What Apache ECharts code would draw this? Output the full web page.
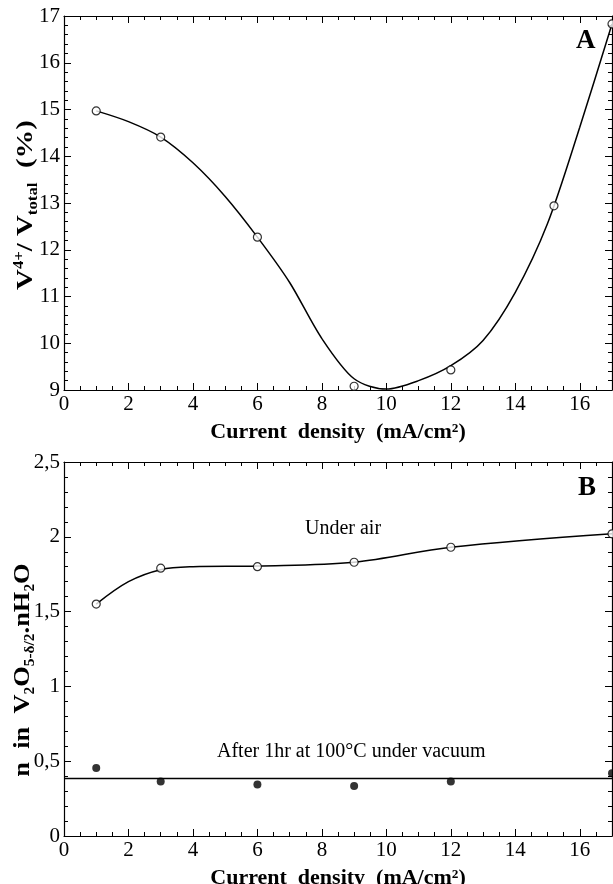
<!DOCTYPE html>
<html>
<head>
<meta charset="utf-8">
<script src="https://cdn.jsdelivr.net/npm/echarts@6/dist/echarts.min.js"></script>
<style>
html,body{margin:0;padding:0;background:#fff;}
#c{width:613px;height:884px;}
</style>
</head>
<body>
<div id="c"></div>
<script>
// ---- Panel A data ----
const xA = [1, 3, 6, 9, 12, 15.2, 17];
const yA = [14.97, 14.41, 12.27, 9.08, 9.43, 12.94, 16.83];
// fitted curve at each unit of x
const fitAx = [1, 2, 3, 4, 5, 6, 7, 8, 9, 10, 11, 12, 13, 14, 15, 16, 17];
const fitAy = [14.97, 14.74, 14.41, 13.86, 13.14, 12.27, 11.3, 10.1, 9.24, 9.02, 9.2, 9.52, 10.06, 11.09, 12.56, 14.62, 16.83];

// ---- Panel B data ----
const xB = [1, 3, 6, 9, 12, 17];
const airB = [1.55, 1.79, 1.80, 1.83, 1.93, 2.02];
const vacB = [0.455, 0.365, 0.345, 0.335, 0.365, 0.42];
const fitAirX = [1, 2, 3, 4, 6, 9, 12, 17];
const fitAirY = [1.55, 1.70, 1.78, 1.80, 1.805, 1.83, 1.93, 2.02];
const vacLineX = [0, 17];
const vacLineY = [0.385, 0.385];

const FF = 'Liberation Serif';
const zip = (a, b) => a.map((v, i) => [v, b[i]]);

const chart = echarts.init(document.getElementById('c'), null, {renderer: 'canvas'});

function xAxisDef(grid, pos, showLabel) {
  return {
    gridIndex: grid, type: 'value', min: 0, max: 17, interval: 2, position: pos,
    axisLine: {onZero: false, lineStyle: {color: '#000', width: 1.2}},
    axisTick: {inside: true, length: 7, lineStyle: {color: '#000', width: 1}},
    minorTick: {show: true, splitNumber: 4, length: 4, lineStyle: {color: '#000', width: 1}},
    splitLine: {show: false},
    axisLabel: {show: showLabel, color: '#000', fontFamily: FF, fontSize: 21, margin: 4,
                showMaxLabel: false, hideOverlap: false},
    name: showLabel ? 'Current  density  (mA/cm²)' : '',
    nameLocation: 'middle', nameGap: 31,
    nameTextStyle: {color: '#000', fontFamily: FF, fontSize: 22, fontWeight: 'bold'}
  };
}
function yAxisDef(grid, pos, showLabel, min, max, interval, fmt) {
  return {
    gridIndex: grid, type: 'value', min: min, max: max, interval: interval, position: pos,
    axisLine: {onZero: false, lineStyle: {color: '#000', width: 1.2}},
    axisTick: {inside: true, length: 7, lineStyle: {color: '#000', width: 1}},
    minorTick: {show: true, splitNumber: 5, length: 4, lineStyle: {color: '#000', width: 1}},
    splitLine: {show: false},
    axisLabel: {show: showLabel, color: '#000', fontFamily: FF, fontSize: 21, margin: 4, formatter: fmt,
                hideOverlap: false}
  };
}

const richStyles = {
  b: {fontFamily: FF, fontSize: 24, fontWeight: 'bold', lineHeight: 28, fill: '#000'},
  sup: {fontFamily: FF, fontSize: 14, fontWeight: 'bold', lineHeight: 28, verticalAlign: 'top', fill: '#000'},
  sub: {fontFamily: FF, fontSize: 14, fontWeight: 'bold', lineHeight: 28, verticalAlign: 'bottom', fill: '#000'}
};

const openSym = {symbol: 'circle', symbolSize: 8, itemStyle: {color: '#fff', borderColor: '#000', borderWidth: 1.2}};

const option = {
  animation: false,
  backgroundColor: '#fff',
  grid: [
    {left: 64, right: 1, top: 16, height: 374, containLabel: false, outerBoundsMode: 'none'},
    {left: 64, right: 1, top: 462, height: 374, containLabel: false, outerBoundsMode: 'none'}
  ],
  xAxis: [
    xAxisDef(0, 'bottom', true),
    xAxisDef(0, 'top', false),
    xAxisDef(1, 'bottom', true),
    xAxisDef(1, 'top', false)
  ],
  yAxis: [
    yAxisDef(0, 'left', true, 9, 17, 1, v => String(v)),
    yAxisDef(0, 'right', false, 9, 17, 1, v => String(v)),
    yAxisDef(1, 'left', true, 0, 2.5, 0.5, v => String(v).replace('.', ',')),
    yAxisDef(1, 'right', false, 0, 2.5, 0.5, v => String(v))
  ],
  series: [
    {type: 'line', xAxisIndex: 0, yAxisIndex: 0, data: zip(fitAx, fitAy), smooth: 0.3, showSymbol: false,
     lineStyle: {color: '#000', width: 1.5}, clip: false, z: 2},
    Object.assign({type: 'scatter', xAxisIndex: 0, yAxisIndex: 0, data: zip(xA, yA), clip: false, z: 3}, openSym),
    {type: 'line', xAxisIndex: 2, yAxisIndex: 2, data: zip(fitAirX, fitAirY), smooth: 0.35, showSymbol: false,
     lineStyle: {color: '#000', width: 1.5}, clip: false, z: 2},
    Object.assign({type: 'scatter', xAxisIndex: 2, yAxisIndex: 2, data: zip(xB, airB), clip: false, z: 3}, openSym),
    {type: 'line', xAxisIndex: 2, yAxisIndex: 2, data: zip(vacLineX, vacLineY), showSymbol: false,
     lineStyle: {color: '#000', width: 1.5}, clip: false, z: 2},
    {type: 'scatter', xAxisIndex: 2, yAxisIndex: 2, data: zip(xB, vacB), symbol: 'circle', symbolSize: 8,
     itemStyle: {color: '#000'}, clip: false, z: 3}
  ],
  graphic: [
    {type: 'text', x: 26, y: 205, rotation: Math.PI / 2, scaleX: 1.2,
     style: {text: '{b|V}{sup|4+}{b|/ V}{sub|total}{b|  (%)}', rich: richStyles, align: 'center', verticalAlign: 'middle'}},
    {type: 'text', x: 23, y: 670, rotation: Math.PI / 2, scaleX: 1.1,
     style: {text: '{b|n  in  V}{sub|2}{b|O}{sub|5-δ/2}{b|.nH}{sub|2}{b|O}', rich: richStyles, align: 'center', verticalAlign: 'middle'}},
    {type: 'text', left: 576, top: 28, style: {text: 'A', font: 'bold 27px "Liberation Serif"', fill: '#000'}},
    {type: 'text', left: 578, top: 475, style: {text: 'B', font: 'bold 27px "Liberation Serif"', fill: '#000'}},
    {type: 'text', left: 305, top: 519, style: {text: 'Under air', font: '20px "Liberation Serif"', fill: '#000'}},
    {type: 'text', left: 217, top: 742, style: {text: 'After 1hr at 100°C under vacuum', font: '20px "Liberation Serif"', fill: '#000'}}
  ]
};
chart.setOption(option);
</script>
</body>
</html>
